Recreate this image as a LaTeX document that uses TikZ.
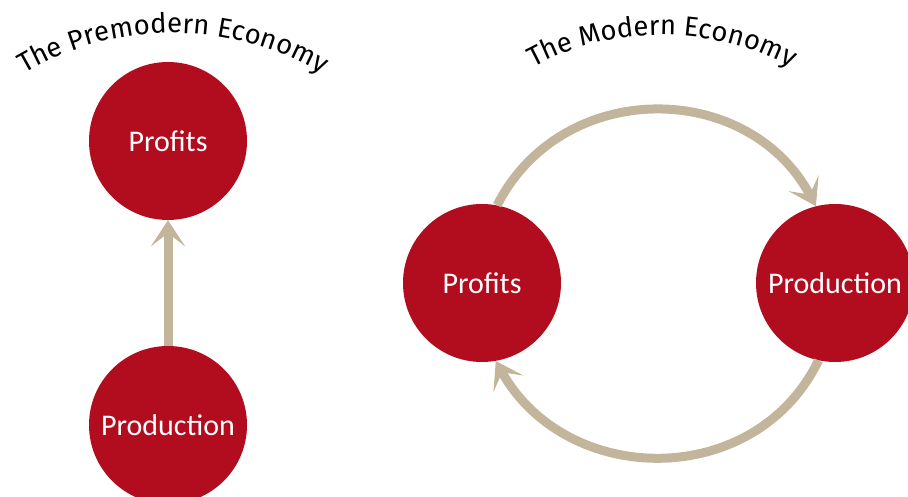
\documentclass[tikz,border=0pt]{standalone}
\usepackage{fontspec}
\usepackage{tikz}
\usetikzlibrary{arrows.meta,decorations.text}

\newfontfamily\circfont{Carlito}
\newfontfamily\titlefont{Fira Sans}
\definecolor{econred}{HTML}{B10D1F}
\definecolor{flowtan}{HTML}{C2B59C}

\begin{document}
\begin{tikzpicture}[x=1pt,y=1pt,>={Stealth[length=26pt,width=34pt,inset=13pt]}]
  \tikzstyle{econ}=[circle,fill=econred,minimum size=158pt,inner sep=0pt,
                    text=white,font=\circfont\fontsize{30}{32}\selectfont]
  \tikzstyle{flow}=[->,draw=flowtan,line width=9pt]
  \tikzstyle{heading}=[decorate,decoration={text along path,text align=center,
                    text={|\titlefont\fontsize{27.5}{30}\selectfont|#1}}]

  \useasboundingbox (0,0) rectangle (908,497);

  % premodern: production feeds profits
  \node[econ] (pre profits)    at (168,356) {Profits};
  \node[econ] (pre production) at (168,72)  {Production};

  % modern: a cycle
  \node[econ] (mod profits)    at (482,214) {Profits};
  \node[econ] (mod production) at (835,214) {Production};

  \coordinate (pre title) at (173,172);
  \coordinate (mod title) at (662,190);

  \path[heading=The Premodern Economy] (pre title) ++(132:292)
        arc[start angle=132,end angle=48,radius=292];
  \path[heading=The Modern Economy] (mod title) ++(128:272)
        arc[start angle=128,end angle=52,radius=272];

  \path (pre production) edge[flow] (pre profits)
        (mod profits.79)     edge[flow,out=63,in=118,looseness=1.15]   (mod production.104)
        (mod production.258) edge[flow,out=-116,in=-61,looseness=1.15] (mod profits.280);
\end{tikzpicture}
\end{document}
